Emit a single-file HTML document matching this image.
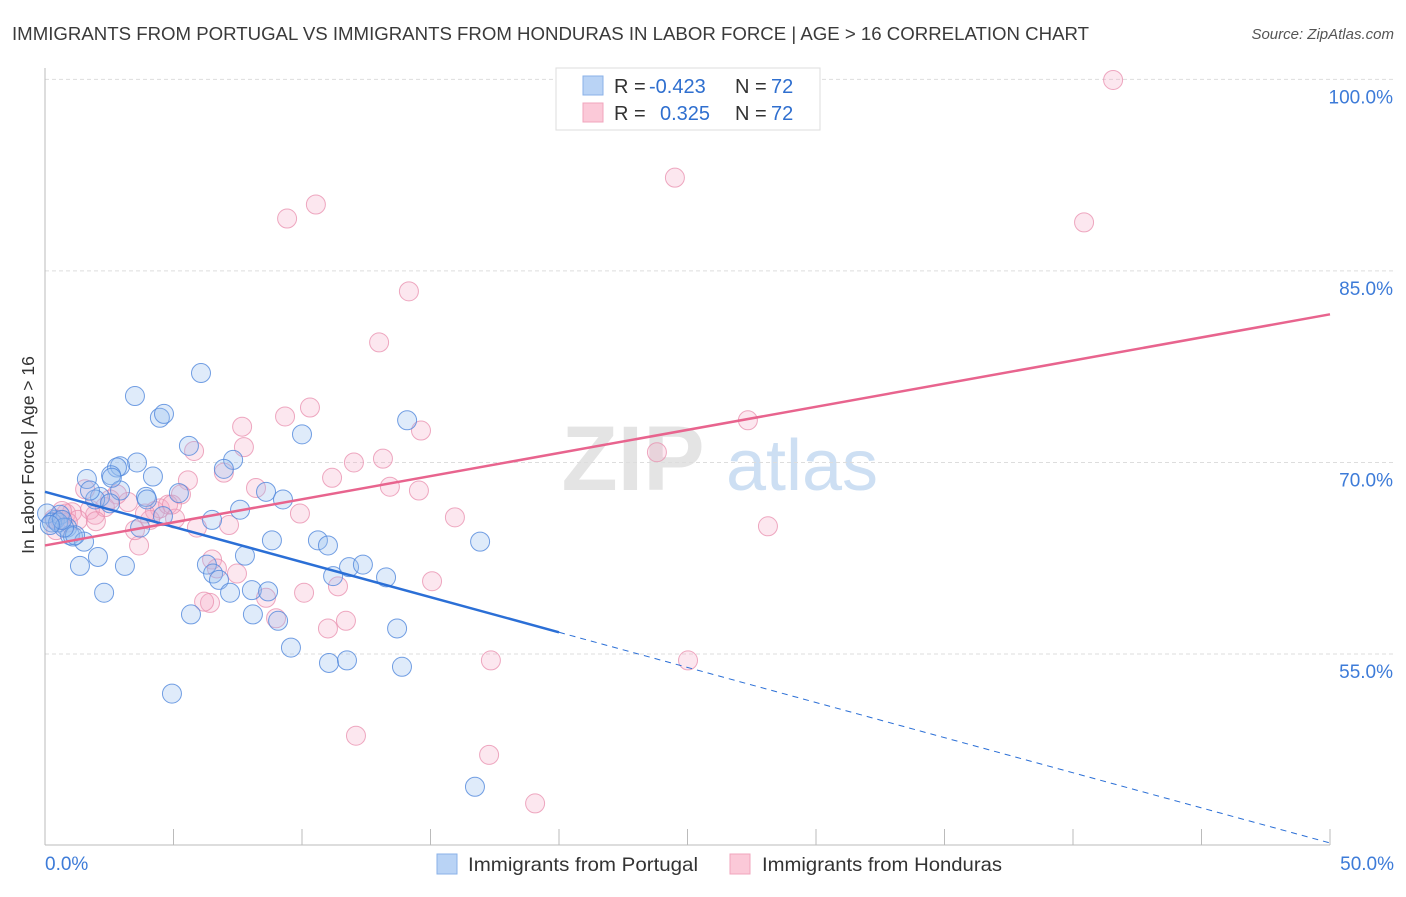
<!DOCTYPE html>
<html><head><meta charset="utf-8"><style>
body{margin:0;background:#fff;font-family:"Liberation Sans",sans-serif}
svg text{font-family:"Liberation Sans",sans-serif}
</style></head><body>
<svg id="chart" width="1406" height="892" viewBox="0 0 1406 892">
<text x="12" y="40" font-size="18.7" fill="#3a3a3a" textLength="1077" lengthAdjust="spacingAndGlyphs">IMMIGRANTS FROM PORTUGAL VS IMMIGRANTS FROM HONDURAS IN LABOR FORCE | AGE &gt; 16 CORRELATION CHART</text>
<text x="1394" y="39" font-size="15" fill="#555" text-anchor="end" font-style="italic">Source: ZipAtlas.com</text>
<g opacity="0.9">
<text x="633" y="490" font-size="92" font-family="Liberation Serif" fill="#e2e2e2" text-anchor="middle" font-weight="bold">ZIP</text>
<text x="802" y="490" font-size="72" fill="#c8dcf2" text-anchor="middle">atlas</text>
</g>
<g id="grid"></g>
<g id="axes"></g>
<g id="points"></g>
<g id="trends"></g>
<g>
<rect x="556" y="68" width="264" height="62" fill="#fff" stroke="#ddd"/>
<rect x="583" y="76" width="20" height="19" fill="#b9d3f5" stroke="#8ab2e8"/>
<rect x="583" y="103" width="20" height="19" fill="#fbc9d8" stroke="#f0a5bd"/>
<text x="614" y="93" font-size="20" fill="#333">R =</text>
<text x="649" y="93" font-size="20" fill="#2f6fcf">-0.423</text>
<text x="735" y="93" font-size="20" fill="#333">N =</text>
<text x="771" y="93" font-size="20" fill="#2f6fcf">72</text>
<text x="614" y="120" font-size="20" fill="#333">R =</text>
<text x="660" y="120" font-size="20" fill="#2f6fcf">0.325</text>
<text x="735" y="120" font-size="20" fill="#333">N =</text>
<text x="771" y="120" font-size="20" fill="#2f6fcf">72</text>
</g>
<text transform="translate(34,455) rotate(-90)" font-size="17.5" fill="#333" text-anchor="middle">In Labor Force | Age &gt; 16</text>
<text x="45" y="870" font-size="19" fill="#3d7bd8">0.0%</text>
<text x="1394" y="870" font-size="19" fill="#3d7bd8" text-anchor="end">50.0%</text>
<g>
<rect x="437" y="854" width="20" height="20" fill="#b9d3f5" stroke="#8ab2e8"/>
<text x="468" y="871" font-size="19.5" fill="#333" textLength="230" lengthAdjust="spacingAndGlyphs">Immigrants from Portugal</text></g>
<g>
<rect x="730" y="854" width="20" height="20" fill="#fbc9d8" stroke="#f0a5bd"/>
<text x="762" y="871" font-size="19.5" fill="#333" textLength="240" lengthAdjust="spacingAndGlyphs">Immigrants from Honduras</text></g>
</svg>
<script>
const yTicks=[55,70,85,100];
const yTickLabels=["55.0%","70.0%","85.0%","100.0%"];
const xTicks=[0,5,10,15,20,25,30,35,40,45,50];
const blueX=[3.50,6.07,4.47,4.63,5.60,10.0,14.09,7.32,6.96,3.58,2.92,2.80,4.20,1.63,2.57,2.14,1.95,3.93,3.97,5.21,8.60,9.26,6.50,3.70,4.59,0.39,0.58,0.86,0.97,1.09,1.52,1.17,2.06,3.11,1.36,2.30,7.78,8.83,10.62,11.01,16.93,6.30,6.54,6.77,7.20,8.05,8.68,8.09,9.07,11.21,11.83,12.37,13.27,5.68,9.57,11.05,11.75,13.70,13.89,4.94,16.73,0.08,0.27,0.51,0.74,2.92,2.53,1.75,0.66,0.19,2.6,7.59];
const blueY=[75.2,77.0,73.5,73.8,71.3,72.2,73.3,70.2,69.5,70.0,69.7,69.6,68.9,68.7,69.0,67.3,67.1,67.3,67.1,67.6,67.7,67.1,65.5,64.9,65.8,65.5,65.9,64.9,64.3,64.2,63.8,64.3,62.6,61.9,61.9,59.8,62.7,63.9,63.9,63.5,63.8,62.0,61.3,60.8,59.8,60.0,59.9,58.1,57.6,61.1,61.8,62.0,61.0,58.1,55.5,54.3,54.5,57.0,54.0,51.9,44.6,66.0,65.3,65.3,64.9,67.8,66.8,67.8,65.5,65.1,68.8,66.3];
const pinkX=[41.56,24.51,10.54,9.42,40.43,14.16,13.0,10.31,9.34,14.63,7.67,7.74,5.80,12.02,13.15,27.35,23.81,11.17,13.42,14.55,6.96,5.56,8.21,5.29,9.92,15.95,28.13,3.66,5.91,7.16,6.50,6.69,7.47,15.06,11.40,10.08,6.42,6.19,8.60,8.99,11.71,11.01,17.35,25.02,12.10,17.28,19.07,3.23,2.80,1.56,1.95,0.58,0.82,1.05,1.75,4.28,4.47,4.79,5.06,4.09,1.28,0.43,0.89,2.33,3.50,2.53,4.94,1.98,0.35,0.66,3.89];
const pinkY=[99.95,92.3,90.2,89.1,88.8,83.4,79.4,74.3,73.6,72.5,72.8,71.2,70.9,70.0,70.3,73.3,70.8,68.8,68.1,67.8,69.2,68.6,68.0,67.5,66.0,65.7,65.0,63.5,64.9,65.1,62.4,61.7,61.3,60.7,60.3,59.8,59.0,59.1,59.4,57.8,57.6,57.0,54.5,54.5,48.6,47.1,43.3,66.9,67.5,67.9,65.9,65.5,66.0,66.1,66.3,66.2,66.4,66.7,65.6,65.5,65.5,64.7,65.3,66.5,64.7,67.1,66.7,65.4,65.6,66.2,66.0];
const blueTrend=[67.7,56.7,40.2]; // y at x=0, 20, 50
const pinkTrend=[63.5,81.6]; // y at x=0, 50
const X0=45,X1=1330,Y55=654,PPU=12.77;
const sx=v=>X0+(X1-X0)*v/50;
const sy=v=>Y55-(v-55)*PPU;
const NS="http://www.w3.org/2000/svg";
function mk(tag,attrs,parent){const e=document.createElementNS(NS,tag);for(const k in attrs)e.setAttribute(k,attrs[k]);parent.appendChild(e);return e;}
const grid=document.getElementById('grid'),axes=document.getElementById('axes');
yTicks.forEach((t,i)=>{
 const l=mk('line',{x1:X0,x2:1394,y1:sy(t),y2:sy(t),stroke:'#ddd','stroke-dasharray':'4,3'},grid);
 
 
 const tx=mk('text',{x:1393,y:sy(t)+24,'font-size':19,fill:'#3d7bd8','text-anchor':'end'},axes);
 tx.textContent=yTickLabels[i];
 
 
});
const ya=mk('line',{x1:X0,x2:X0,y1:68,y2:845,stroke:'#bbb'},axes);


const xa=mk('line',{x1:X0,x2:X1,y1:845,y2:845,stroke:'#bbb'},axes);


xTicks.forEach(t=>{
 const l=mk('line',{x1:sx(t),x2:sx(t),y1:829,y2:845,stroke:'#bbb'},axes);
 
 
});
const pts=document.getElementById('points');
function drawSeries(xs,ys,fill,stroke,name){
 xs.forEach((x,i)=>{
  const c=mk('circle',{cx:sx(x),cy:sy(ys[i]),r:9.5,fill:fill,stroke:stroke,'stroke-width':1},pts);
  
  
 });
}
drawSeries(pinkX,pinkY,'rgba(246,170,196,0.28)','rgba(232,140,172,0.75)','point-honduras');
drawSeries(blueX,blueY,'rgba(150,188,240,0.3)','rgba(80,135,220,0.8)','point-portugal');
const tr=document.getElementById('trends');
const b1=mk('line',{x1:sx(0),y1:sy(blueTrend[0]),x2:sx(20),y2:sy(blueTrend[1]),stroke:'#2b6fd6','stroke-width':2.5},tr);


const b2=mk('line',{x1:sx(20),y1:sy(blueTrend[1]),x2:sx(50),y2:sy(blueTrend[2]),stroke:'#2b6fd6','stroke-width':1,'stroke-dasharray':'6,5'},tr);


const p1=mk('line',{x1:sx(0),y1:sy(pinkTrend[0]),x2:sx(50),y2:sy(pinkTrend[1]),stroke:'#e8648e','stroke-width':2.5},tr);


</script>
</body></html>
